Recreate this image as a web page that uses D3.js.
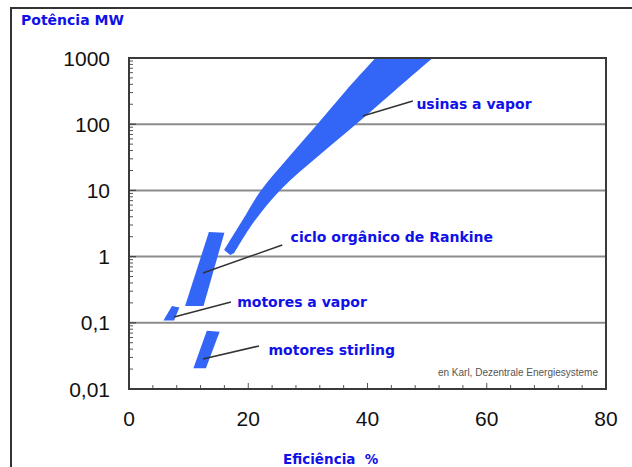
<!DOCTYPE html>
<html>
<head>
<meta charset="utf-8">
<script src="https://cdn.jsdelivr.net/npm/d3@7"></script>
<style>
  html, body { margin: 0; padding: 0; background: #fff; }
  svg { display: block; }
</style>
</head>
<body>
<svg id="chart" width="632" height="467"></svg>
<script>
// Axis ticks and labels
const xTickValues = [0, 20, 40, 60, 80];
const xTickLabels = ["0", "20", "40", "60", "80"];
const yTickValues = [0.01, 0.1, 1, 10, 100, 1000];
const yTickLabels = ["0,01", "0,1", "1", "10", "100", "1000"];

// Technology regions: [efficiency %, power MW]
const usinasUpperEdge = [[15.97, 1.26], [19.0, 3.5], [22.0, 9.6], [26.8, 32], [31.76, 104], [36.47, 329], [41.34, 1000]];
const usinasLowerEdge = [[17.65, 1.134], [20.9, 3.3], [25.6, 10.6], [31.76, 33], [38.32, 104], [44.7, 329], [50.92, 1000]];
const usinasBottomTip = [16.97, 1.057];
const rankineRegion = [[13.4, 2.35], [16.0, 2.3], [12.5, 0.18], [9.4, 0.18]];
const vaporMotorRegion = [[7.2, 0.18], [8.45, 0.17], [7.56, 0.108], [5.77, 0.108]];
const stirlingRegion = [[13.05, 0.076], [15.2, 0.073], [12.9, 0.0206], [10.8, 0.0206]];

// Annotations: text, leader start, leader end, label anchor
const annotationTexts = ["usinas a vapor", "ciclo orgânico de Rankine", "motores a vapor", "motores stirling"];
const leaderStarts = [[39.2, 133], [12.4, 0.565], [7.56, 0.122], [12.4, 0.0284]];
const leaderEnds = [[47.6, 224], [25.7, 1.5], [17.1, 0.206], [21.8, 0.0447]];
const labelAnchors = [[48.2, 202], [27.1, 1.98], [18.15, 0.206], [23.4, 0.0388]];

const creditText = "en Karl, Dezentrale Energiesysteme";

const svg = d3.select("#chart");
const blue = "#1010e8";
const fillBlue = "#3366f6";

// Outer frame
svg.append("path")
  .attr("d", "M11,468 L11,8 L633,8")
  .attr("fill", "none").attr("stroke", "#333").attr("stroke-width", 2);

const plotLeft = 129, plotRight = 606, plotTop = 58, plotBottom = 389;
const x = d3.scaleLinear().domain([0, 80]).range([plotLeft, plotRight]);
const y = d3.scaleLog().domain([0.01, 1000]).range([plotBottom, plotTop]);

svg.append("defs").append("clipPath").attr("id", "plotClip")
  .append("rect").attr("x", plotLeft).attr("y", plotTop)
  .attr("width", plotRight - plotLeft).attr("height", plotBottom - plotTop);

// Horizontal grid at each decade
svg.append("g").selectAll("line").data(yTickValues.slice(1, -1)).join("line")
  .attr("x1", plotLeft).attr("x2", plotRight)
  .attr("y1", d => y(d)).attr("y2", d => y(d))
  .attr("stroke", "#8c8c8c").attr("stroke-width", 2);

// Minor ticks on the y axis (2..9 per decade), pointing inward
const yMinor = [];
for (let e = -2; e < 3; e++) for (let m = 2; m <= 9; m++) yMinor.push(m * Math.pow(10, e));
svg.append("g").selectAll("line").data(yMinor).join("line")
  .attr("x1", plotLeft).attr("x2", plotLeft + 4)
  .attr("y1", d => y(d)).attr("y2", d => y(d))
  .attr("stroke", "#555").attr("stroke-width", 1);
svg.append("g").selectAll("line").data(yTickValues).join("line")
  .attr("x1", plotLeft).attr("x2", plotLeft + 7)
  .attr("y1", d => y(d)).attr("y2", d => y(d))
  .attr("stroke", "#444").attr("stroke-width", 1.2);

// Ticks on the x axis every 4 %
svg.append("g").selectAll("line").data(d3.range(4, 80, 4)).join("line")
  .attr("x1", d => x(d)).attr("x2", d => x(d))
  .attr("y1", plotBottom).attr("y2", d => plotBottom - (d % 20 === 0 ? 6 : 4))
  .attr("stroke", "#555").attr("stroke-width", 1);

// Regions
const gRegions = svg.append("g").attr("clip-path", "url(#plotClip)");
const edge = d3.line().x(d => x(d[0])).y(d => y(d[1])).curve(d3.curveCatmullRom.alpha(0.5));
const usinasPath = "M" + x(usinasBottomTip[0]) + "," + y(usinasBottomTip[1]) +
  "L" + edge(usinasUpperEdge).slice(1) +
  "L" + edge(usinasLowerEdge.slice().reverse()).slice(1) + "Z";
gRegions.append("path").attr("d", usinasPath).attr("fill", fillBlue);
const poly = d3.line().x(d => x(d[0])).y(d => y(d[1])).curve(d3.curveLinearClosed);
[rankineRegion, vaporMotorRegion, stirlingRegion].forEach(r => {
  gRegions.append("path").attr("d", poly(r)).attr("fill", fillBlue);
});

// Plot frame
svg.append("rect")
  .attr("x", plotLeft).attr("y", plotTop)
  .attr("width", plotRight - plotLeft).attr("height", plotBottom - plotTop)
  .attr("fill", "none").attr("stroke", "#3a3a3a").attr("stroke-width", 2);

// Leader lines and labels
annotationTexts.forEach((t, i) => {
  svg.append("line")
    .attr("x1", x(leaderStarts[i][0])).attr("y1", y(leaderStarts[i][1]))
    .attr("x2", x(leaderEnds[i][0])).attr("y2", y(leaderEnds[i][1]))
    .attr("stroke", "#333").attr("stroke-width", 1.5);
  svg.append("text")
    .attr("x", x(labelAnchors[i][0])).attr("y", y(labelAnchors[i][1]))
    .attr("dy", "0.35em")
    .attr("font-family", "DejaVu Sans").attr("font-weight", "bold").attr("font-size", 14)
    .attr("fill", blue).text(t);
});

// Tick labels
svg.append("g").selectAll("text").data(yTickValues).join("text")
  .attr("x", 110).attr("y", d => y(d)).attr("dy", "0.36em")
  .attr("text-anchor", "end")
  .attr("font-family", "Liberation Sans, Arial, sans-serif").attr("font-size", 21)
  .attr("fill", "#111")
  .text((d, i) => yTickLabels[i]);
svg.append("g").selectAll("text").data(xTickValues).join("text")
  .attr("x", d => x(d)).attr("y", 426)
  .attr("text-anchor", "middle")
  .attr("font-family", "Liberation Sans, Arial, sans-serif").attr("font-size", 21)
  .attr("fill", "#111")
  .text((d, i) => xTickLabels[i]);

// Axis titles
svg.append("text").attr("x", 21).attr("y", 25)
  .attr("font-family", "DejaVu Sans").attr("font-weight", "bold").attr("font-size", 14)
  .attr("fill", blue).text("Potência MW");
svg.append("text").attr("x", 283).attr("y", 464)
  .attr("font-family", "DejaVu Sans").attr("font-weight", "bold").attr("font-size", 13.5)
  .attr("fill", blue).attr("xml:space", "preserve").text("Eficiência  %");

// Source credit
svg.append("text").attr("x", 598).attr("y", 376)
  .attr("text-anchor", "end")
  .attr("font-family", "Liberation Sans, Arial, sans-serif").attr("font-size", 10)
  .attr("fill", "#555").text(creditText);
</script>
</body>
</html>
